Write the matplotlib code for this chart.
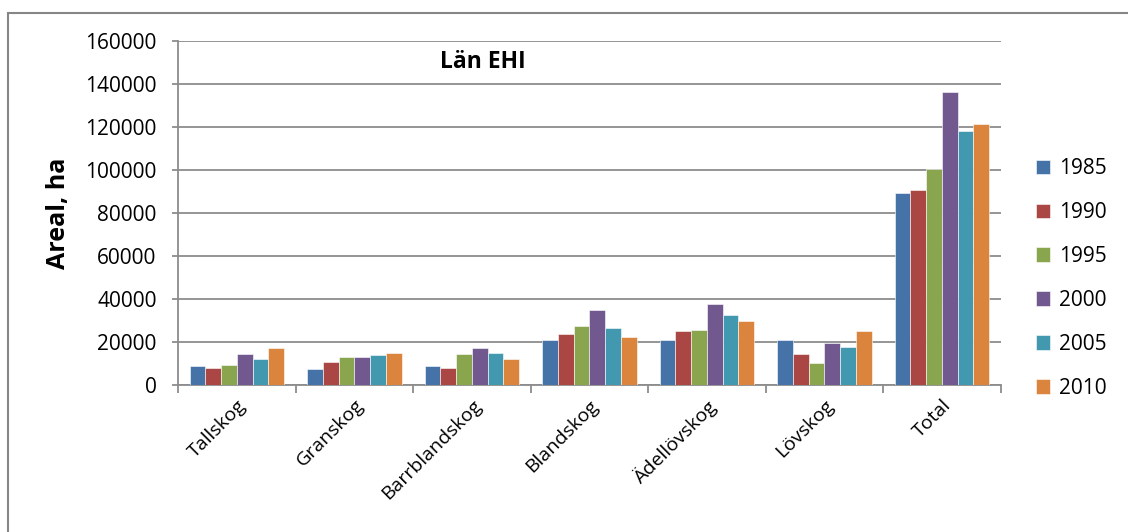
import numpy as np
import matplotlib.pyplot as plt
from matplotlib.patches import Rectangle

plt.rcParams['font.family'] = ['Open Sans', 'DejaVu Sans']

categories = ['Tallskog', 'Granskog', 'Barrblandskog', 'Blandskog',
              'Ädellövskog', 'Lövskog', 'Total']
years = ['1985', '1990', '1995', '2000', '2005', '2010']

areal_1985 = [9000, 7600, 8900, 21200, 21100, 21100, 89400]
areal_1990 = [8000, 10600, 8100, 23700, 25100, 14700, 90500]
areal_1995 = [9400, 13300, 14700, 27300, 25600, 10300, 100500]
areal_2000 = [14500, 13300, 17300, 34800, 37500, 19400, 136400]
areal_2005 = [12300, 13900, 15100, 26800, 32500, 17600, 118200]
areal_2010 = [17500, 15000, 12200, 22300, 29700, 25100, 121600]

series = [areal_1985, areal_1990, areal_1995, areal_2000, areal_2005, areal_2010]
colors = ['#4572A7', '#AA4643', '#89A54E', '#71588F', '#4198AF', '#DB843D']

fig = plt.figure(figsize=(11.28, 5.32), dpi=100)
ax = fig.add_axes([0.158, 0.276, 0.729, 0.647])

# chart frame, open towards right and bottom
fig.patches.append(Rectangle((8 / 1128, -0.1), 1.2, 1 - 13 / 532 + 0.1,
                             transform=fig.transFigure, fill=False,
                             edgecolor='#868686', lw=1.5))

x = np.arange(len(categories))
width = 0.134
for i, (vals, yr, c) in enumerate(zip(series, years, colors)):
    ax.bar(x + (i - 2.5) * width, vals, width, color=c, label=yr,
           edgecolor='white', linewidth=0.4, zorder=3)

ax.set_xlim(-0.5, len(categories) - 0.5)
ax.set_ylim(0, 160000)
ax.set_yticks(np.arange(0, 160001, 20000))
ax.yaxis.grid(True, color='#8c8c8c', lw=1.3, zorder=0)

for s in ['top', 'right']:
    ax.spines[s].set_visible(False)
ax.spines['left'].set_color('#8c8c8c')
ax.spines['bottom'].set_color('#8c8c8c')
ax.spines['left'].set_linewidth(1.3)
ax.spines['bottom'].set_linewidth(1.3)

ax.set_xticks(x)
ax.set_xticklabels(categories, rotation=45, ha='right', rotation_mode='anchor',
                   fontsize=14)
ax.tick_params(axis='x', length=0, pad=8)
ax.set_xticks(np.arange(-0.5, len(categories)), minor=True)
ax.tick_params(axis='x', which='minor', length=6, width=1.3, color='#8c8c8c')
ax.tick_params(axis='y', length=4.5, width=1.3, color='#8c8c8c', labelsize=15, pad=11)

ax.set_ylabel('Areal, ha', fontsize=18, fontweight='bold', labelpad=10)
ax.text(0.37, 0.94, 'Län EHI', transform=ax.transAxes, ha='center', va='center',
        fontsize=16.5, fontweight='bold')

ax.legend(loc='center left', bbox_to_anchor=(1.02, 0.31), frameon=False,
          fontsize=15, handlelength=0.7, handleheight=0.7,
          handletextpad=0.4, labelspacing=1.1)

fig.savefig('out.png', dpi=100)
